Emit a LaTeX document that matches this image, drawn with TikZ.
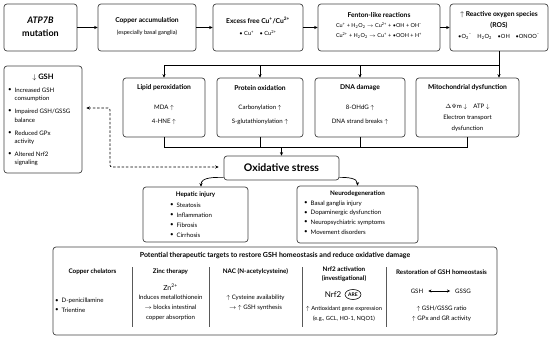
\documentclass[tikz,border=0pt]{standalone}
\usepackage{fontspec}
\setmainfont{Lato}
\usetikzlibrary{arrows.meta,shapes.geometric}
\tikzset{
 box/.style={draw=black!75, rounded corners=3pt, line width=0.7pt, inner sep=0pt},
 conn/.style={line width=0.7pt, black},
 arr/.style={conn, -{Stealth[length=3.5pt,width=3.2pt]}},
 ttl/.style={inner sep=0pt, font=\fontsize{6.7}{8}\selectfont\bfseries},
 txt/.style={inner sep=0pt, font=\fontsize{6.1}{7.5}\selectfont},
 sm/.style={inner sep=0pt, font=\fontsize{5.7}{7}\selectfont},
 big/.style={inner sep=0pt, font=\fontsize{9}{10}\selectfont\bfseries},
 colttl/.style={inner sep=0pt, font=\fontsize{6.3}{7}\selectfont\bfseries},
}
\newcommand{\bul}{\textbullet}
\newcommand{\sups}[1]{\textsuperscript{#1}}
\newcommand{\subs}[1]{\textsubscript{#1}}
\begin{document}
\begin{tikzpicture}[x=1pt,y=-1pt]
\useasboundingbox (0,0) rectangle (550,338);
% ---------- row 1
\node[box, minimum width=73pt, minimum height=47pt] (atp) at (40.5,27.5) {};
\node[big, font=\fontsize{9}{10}\selectfont\bfseries\itshape] (atpA) at (40.5,20) {ATP7B};
\node[big] (atpB) at (40.5,33) {mutation};

\node[box, minimum width=98pt, minimum height=47pt] (cu) at (147,27.5) {};
\node[ttl] (cuA) at (147,21) {Copper accumulation};
\node[sm] (cuB) at (147,33) {(especially basal ganglia)};

\node[box, minimum width=90pt, minimum height=47pt] (ex) at (258,27.5) {};
\node[ttl] (exA) at (258,20) {Excess free Cu\sups{+}/Cu\sups{2+}};
\node[sm] (exB) at (258,33) {\bul\ Cu\sups{+}\quad \bul\ Cu\sups{2+}};

\node[box, minimum width=122pt, minimum height=47pt] (fe) at (379,27.5) {};
\node[ttl] (feA) at (379,15) {Fenton-like reactions};
\node[sm, font=\fontsize{5.5}{7}\selectfont] (feB) at (379,25.5) {Cu\sups{+} + H\subs{2}O\subs{2} $\rightarrow$ Cu\sups{2+} + \bul OH + OH\sups{--}};
\node[sm, font=\fontsize{5.5}{7}\selectfont] (feC) at (379,36) {Cu\sups{2+} + H\subs{2}O\subs{2} $\rightarrow$ Cu\sups{+} + \bul OOH + H\sups{+}};

\node[box, minimum width=98pt, minimum height=47pt] (ros) at (499,27.5) {};
\node[ttl] (rosA) at (499,15) {$\uparrow$ Reactive oxygen species};
\node[ttl] (rosB) at (499,25.5) {(ROS)};
\node[sm] (rosC) at (499,36.5) {\bul O\subs{2}\sups{--}\quad H\subs{2}O\subs{2}\quad \bul OH\quad \bul ONOO\sups{--}};

\draw[arr] (atp) -- (cu);
\draw[arr] (cu) -- (ex);
\draw[arr] (ex) -- (fe);
\draw[arr] (fe) -- (ros);

% ---------- row 2
\node[box, minimum width=82pt, minimum height=59pt] (lip) at (164,107.5) {};
\node[ttl] at (164,88) {Lipid peroxidation};
\node[txt] at (164,108) {MDA $\uparrow$};
\node[txt] at (164,122) {4-HNE $\uparrow$};

\node[box, minimum width=86pt, minimum height=59pt] (pro) at (260,107.5) {};
\node[ttl] at (260,88) {Protein oxidation};
\node[txt] at (260,108) {Carbonylation $\uparrow$};
\node[txt] at (260,122) {S-glutathionylation $\uparrow$};

\node[box, minimum width=90pt, minimum height=59pt] (dna) at (360,107.5) {};
\node[ttl] at (360,88) {DNA damage};
\node[txt] at (360,108) {8-OHdG $\uparrow$};
\node[txt] at (360,122) {DNA strand breaks $\uparrow$};

\node[box, minimum width=103pt, minimum height=59pt] (mit) at (467.5,107.5) {};
\node[ttl] at (467.5,88) {Mitochondrial dysfunction};
\node[txt] at (467.5,107) {$\Delta\Psi$m $\downarrow$\quad ATP $\downarrow$};
\node[txt] at (467.5,118) {Electron transport};
\node[txt] at (467.5,129) {dysfunction};

\coordinate (bt) at (0,65);
\draw[conn] (ros.south) |- (lip.north |- bt);
\draw[arr] (lip.north |- bt) -- (lip.north);
\draw[arr] (pro.north |- bt) -- (pro.north);
\draw[arr] (dna.north |- bt) -- (dna.north);
\draw[arr] (ros.south |- bt) -- (mit.north -| ros.south);

% ---------- oxidative stress
\node[box, minimum width=115pt, minimum height=24pt] (ox) at (281.5,168) {};
\node[inner sep=0pt, font=\fontsize{10.5}{12}\selectfont\bfseries] at (281.5,168) {Oxidative stress};
\coordinate (bb) at (0,147);
\draw[conn] (lip.south) |- (mit.south |- bb) -- (mit.south);
\draw[conn] (pro.south) -- (pro.south |- bb);
\draw[conn] (dna.south) -- (dna.south |- bb);
\draw[arr] (ox.north |- bb) -- (ox.north);

% ---------- GSH box
\node[box, minimum width=78pt, minimum height=107pt] (gsh) at (43,119.5) {};
\node[ttl, font=\fontsize{7.5}{9}\selectfont\bfseries] at (43,77) {$\downarrow$ GSH};
\foreach \y/\a/\b in {90/Increased GSH/consumption, 111.5/Impaired GSH\slash GSSG/balance, 133/Reduced GPx/activity, 154.5/Altered Nrf2/signaling}{
  \node[txt] at (10,\y) {\bul};
  \node[txt, anchor=west] at (14.5,\y) {\a};
  \node[txt, anchor=west] at (14.5,\y+8.5) {\b};
}
\coordinate (d1) at (110,108);
\draw[conn, dash pattern=on 2.5pt off 1.8pt, rounded corners=2pt, {Stealth[length=3.5pt,width=3.2pt]}-{Stealth[length=3.5pt,width=3.2pt]}]
  ([xshift=4pt]gsh.east |- d1) -- (d1) |- ([xshift=-5pt,yshift=1pt]ox.west);

% ---------- hepatic / neuro
\node[box, minimum width=105pt, minimum height=55pt] (hep) at (195.5,214.5) {};
\node[colttl] at (195.5,195) {Hepatic injury};
\foreach \y/\t in {205/Steatosis, 215/Inflammation, 225/Fibrosis, 235/Cirrhosis}{
  \node[txt] at (172,\y) {\bul};
  \node[txt, anchor=west] at (176.5,\y) {\t};
}
\node[box, minimum width=121pt, minimum height=57pt] (neu) at (357.5,214.5) {};
\node[colttl] at (357.5,194) {Neurodegeneration};
\foreach \y/\t in {203.5/Basal ganglia injury, 213/Dopaminergic dysfunction, 222.5/Neuropsychiatric symptoms, 232/Movement disorders}{
  \node[txt] at (306,\y) {\bul};
  \node[txt, anchor=west] at (310.5,\y) {\t};
}
\draw[arr] ([yshift=3pt]ox.south west) to[out=180,in=90] ([xshift=5.5pt]hep.north);
\draw[arr] ([yshift=3pt]ox.south east) to[out=0,in=90] (neu.north);

% ---------- therapeutic box
\node[box, minimum width=444pt, minimum height=88pt] (th) at (275,291) {};
\node[ttl, font=\fontsize{7}{8}\selectfont\bfseries] at (275,255.5) {Potential therapeutic targets to restore GSH homeostasis and reduce oxidative damage};
\foreach \x in {132,209,302,386}{ \draw[black!65, line width=0.7pt] (\x,267) -- (\x,327); }
% col 1
\node[colttl] at (92.5,272) {Copper chelators};
\node[txt] at (57,301) {\bul};
\node[txt, anchor=west] at (61.5,301) {D-penicillamine};
\node[txt] at (57,310.5) {\bul};
\node[txt, anchor=west] at (61.5,310.5) {Trientine};
% col 2
\node[colttl] at (170.5,272) {Zinc therapy};
\node[txt, font=\fontsize{7}{8}\selectfont] at (170.5,287) {Zn\sups{2+}};
\node[txt] at (170.5,297.5) {Induces metallothionein};
\node[txt] at (170.5,307.5) {$\rightarrow$ blocks intestinal};
\node[txt] at (170.5,317.5) {copper absorption};
% col 3
\node[colttl] at (255.5,272) {NAC (N-acetylcysteine)};
\node[txt] at (255.5,298) {$\uparrow$ Cysteine availability};
\node[txt] at (255.5,308) {$\rightarrow$ $\uparrow$ GSH synthesis};
% col 4
\node[colttl] at (344,269) {Nrf2 activation};
\node[colttl] at (344,279) {(investigational)};
\node[inner sep=0pt, font=\fontsize{8}{9}\selectfont] at (333,294.5) {Nrf2};
\node[draw, ellipse, line width=0.6pt, inner sep=0.6pt, minimum width=16pt, minimum height=10pt, font=\fontsize{5}{6}\selectfont\bfseries] (are) at (353,294.5) {ARE};
\node[sm] at (344,309) {$\uparrow$ Antioxidant gene expression};
\node[sm] at (344,319) {(e.g., GCL, HO-1, NQO1)};
% col 5
\node[colttl] at (441.5,272) {Restoration of GSH homeostasis};
\node[txt] (g1) at (417,291) {GSH};
\node[txt] (g2) at (463,291) {GSSG};
\draw[conn, {Stealth[length=3pt,width=3pt]}-{Stealth[length=3pt,width=3pt]}] ([xshift=5pt]g1.east) -- ([xshift=-5pt]g2.west);
\node[txt] at (441.5,309) {$\uparrow$ GSH/GSSG ratio};
\node[txt] at (441.5,319) {$\uparrow$ GPx and GR activity};
\end{tikzpicture}
\end{document}
